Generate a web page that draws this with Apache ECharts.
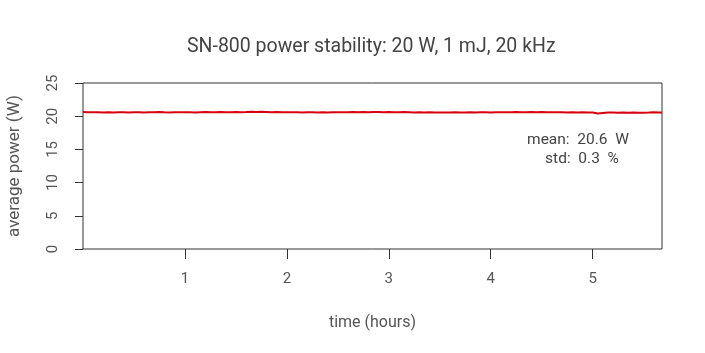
<!DOCTYPE html>
<html>
<head>
<meta charset="utf-8">
<script src="https://cdn.jsdelivr.net/npm/echarts@6/dist/echarts.min.js"></script>
<style>html,body{margin:0;padding:0;background:#fff}#c{width:705px;height:353px}</style>
</head>
<body>
<div id="c"></div>
<script>
const titleText = 'SN-800 power stability: 20 W, 1 mJ, 20 kHz';
const xName = 'time (hours)';
const yName = 'average power (W)';
const xTicks = [1, 2, 3, 4, 5];
const yTicks = [0, 5, 10, 15, 20, 25];
const statLines = ['mean:  20.6  W', 'std:  0.3  %'];

const hours = [0.00,0.05,0.10,0.15,0.20,0.25,0.30,0.35,0.40,0.45,0.50,0.55,0.60,0.65,0.70,0.75,0.80,0.85,0.90,0.95,
1.00,1.05,1.10,1.15,1.20,1.25,1.30,1.35,1.40,1.45,1.50,1.55,1.60,1.65,1.70,1.75,1.80,1.85,1.90,1.95,
2.00,2.05,2.10,2.15,2.20,2.25,2.30,2.35,2.40,2.45,2.50,2.55,2.60,2.65,2.70,2.75,2.80,2.85,2.90,2.95,
3.00,3.05,3.10,3.15,3.20,3.25,3.30,3.35,3.40,3.45,3.50,3.55,3.60,3.65,3.70,3.75,3.80,3.85,3.90,3.95,
4.00,4.05,4.10,4.15,4.20,4.25,4.30,4.35,4.40,4.45,4.50,4.55,4.60,4.65,4.70,4.75,4.80,4.85,4.90,4.95,
5.00,5.05,5.10,5.15,5.20,5.25,5.30,5.35,5.40,5.45,5.50,5.55,5.60,5.65,5.68];
const power = [20.62,20.60,20.58,20.61,20.57,20.59,20.56,20.60,20.58,20.55,20.59,20.61,20.57,20.60,20.58,20.62,20.59,20.57,20.60,20.58,
20.61,20.59,20.57,20.60,20.62,20.58,20.60,20.63,20.59,20.61,20.64,20.60,20.62,20.66,20.63,20.67,20.64,20.61,20.63,20.60,
20.58,20.61,20.59,20.57,20.60,20.58,20.56,20.59,20.57,20.60,20.58,20.61,20.59,20.62,20.60,20.63,20.61,20.64,20.62,20.60,
20.63,20.61,20.59,20.62,20.60,20.57,20.59,20.56,20.58,20.55,20.57,20.54,20.56,20.58,20.55,20.57,20.59,20.56,20.58,20.60,
20.57,20.59,20.61,20.58,20.60,20.62,20.59,20.61,20.63,20.60,20.62,20.59,20.61,20.58,20.60,20.57,20.59,20.56,20.58,20.55,
20.57,20.42,20.48,20.54,20.56,20.53,20.55,20.52,20.54,20.51,20.53,20.55,20.58,20.56,20.57];

const font = 'Roboto';
const chart = echarts.init(document.getElementById('c'), null, {renderer: 'canvas'});
chart.setOption({
  backgroundColor: '#ffffff',
  animation: false,
  title: {
    text: titleText, left: 182, top: 32,
    textStyle: {fontFamily: font, fontSize: 19.5, fontWeight: 'normal', color: '#444'}
  },
  grid: {left: 83, right: 43, top: 83, bottom: 104, show: true, borderColor: '#333', borderWidth: 1, backgroundColor: 'transparent', outerBoundsMode: 'none', containLabel: false},
  xAxis: {
    type: 'value', min: 0, max: 5.68, interval: 1,
    name: xName, nameLocation: 'middle', nameGap: 66,
    nameTextStyle: {fontFamily: font, fontSize: 16, color: '#555'},
    axisLine: {show: false},
    splitLine: {show: false},
    axisTick: {show: true, length: 10, customValues: xTicks, lineStyle: {color: '#333'}},
    axisLabel: {customValues: xTicks, margin: 23, fontFamily: font, fontSize: 15, color: '#555'}
  },
  yAxis: {
    type: 'value', min: 0, max: 25, interval: 5,
    name: yName, nameLocation: 'middle', nameGap: 60, nameRotate: 90,
    nameTextStyle: {fontFamily: font, fontSize: 17, color: '#555'},
    axisLine: {show: false},
    splitLine: {show: false},
    axisTick: {show: true, length: 8, customValues: yTicks, lineStyle: {color: '#333'}},
    axisLabel: {rotate: 90, margin: 22, fontFamily: font, fontSize: 15, color: '#555'}
  },
  series: [{
    type: 'line',
    data: hours.map((h, i) => [h, power[i]]),
    showSymbol: false,
    lineStyle: {color: '#d7000f', width: 2},
    z: 3
  }],
  graphic: [
    {type: 'text', x: 578, y: 132, style: {text: statLines[0], align: 'center', fontFamily: font, fontSize: 15.5, fill: '#444'}},
    {type: 'text', x: 582, y: 151, style: {text: statLines[1], align: 'center', fontFamily: font, fontSize: 15.5, fill: '#444'}}
  ]
});
</script>
</body>
</html>
